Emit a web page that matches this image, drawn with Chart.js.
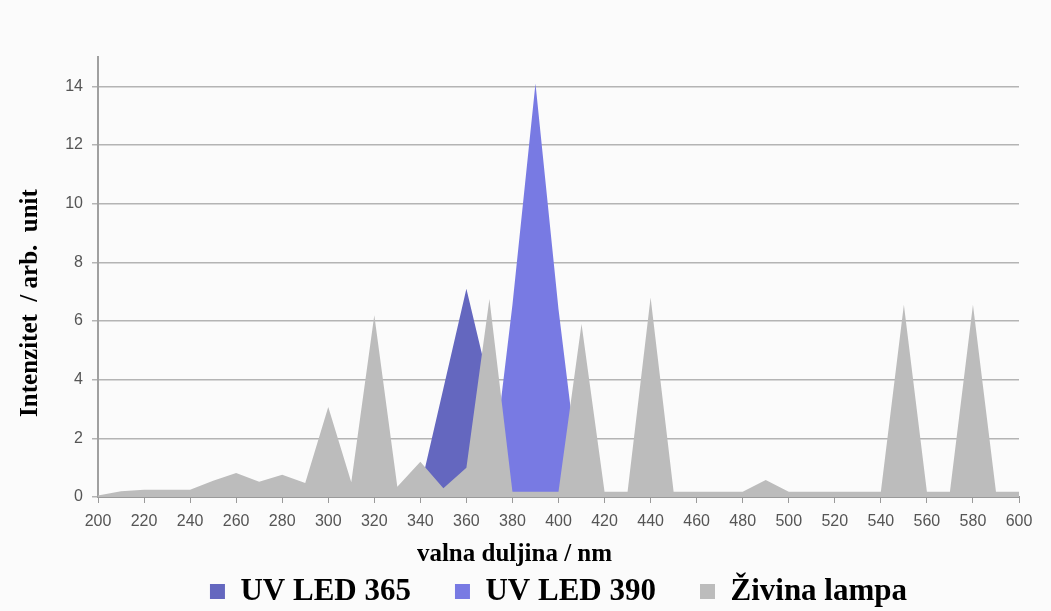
<!DOCTYPE html>
<html>
<head>
<meta charset="utf-8">
<script src="https://cdn.jsdelivr.net/npm/chart.js@4/dist/chart.umd.min.js"></script>
<style>
    body { margin: 0; background: #fbfbfb; }
    canvas { display: block; }
</style>
</head>
<body>
<canvas id="chart" width="1051" height="611"></canvas>
<script>
// wavelength categories (nm)
const wavelengths = [200, 210, 220, 230, 240, 250, 260, 270, 280, 290,
    300, 310, 320, 330, 340, 350, 360, 370, 380, 390,
    400, 410, 420, 430, 440, 450, 460, 470, 480, 490,
    500, 510, 520, 530, 540, 550, 560, 570, 580, 590, 600];

const uvLed365 = [0, 0, 0, 0, 0, 0, 0, 0, 0, 0,
    0, 0, 0, 0, 0.3, 3.7, 7.1, 3.8, 0, 0,
    0, 0, 0, 0, 0, 0, 0, 0, 0, 0,
    0, 0, 0, 0, 0, 0, 0, 0, 0, 0, 0];

const uvLed390 = [0, 0, 0, 0, 0, 0, 0, 0, 0, 0,
    0, 0, 0, 0, 0, 0, 0, 0, 6.55, 14.1,
    6.4, 0, 0, 0, 0, 0, 0, 0, 0, 0,
    0, 0, 0, 0, 0, 0, 0, 0, 0, 0, 0];

const zivinaLampa = [0.05, 0.2, 0.25, 0.25, 0.25, 0.55, 0.82, 0.52, 0.76, 0.48,
    3.07, 0.5, 6.2, 0.35, 1.2, 0.3, 1.0, 6.75, 0.18, 0.18,
    0.18, 5.9, 0.18, 0.18, 6.8, 0.18, 0.18, 0.18, 0.18, 0.58,
    0.18, 0.18, 0.18, 0.18, 0.18, 6.55, 0.18, 0.18, 6.55, 0.18, 0.18];

const yTicks = [0, 2, 4, 6, 8, 10, 12, 14];

const seriesNames = ['UV LED 365', 'UV LED 390', 'Živina lampa'];
const seriesColors = ['#6467bf', '#787ae3', '#bcbcbc'];

const xTitle = 'valna duljina / nm';
const yTitle = 'Intenzitet  / arb.  unit';

// axis titles drawn by hand so they can sit where the original has them
const axisTitles = {
    id: 'axisTitles',
    afterDraw(chart) {
        const ctx = chart.ctx;
        const area = chart.chartArea;
        ctx.save();
        ctx.fillStyle = '#000';
        ctx.font = 'bold 25px "Liberation Serif", "Times New Roman", serif';
        ctx.textAlign = 'center';
        ctx.textBaseline = 'alphabetic';
        ctx.fillText(xTitle, (area.left + area.right) / 2 - 44, 561);
        ctx.translate(37, (area.top + area.bottom) / 2 + 26);
        ctx.rotate(-Math.PI / 2);
        ctx.fillText(yTitle, 0, 0);
        ctx.restore();
    }
};

const ctx = document.getElementById('chart').getContext('2d');
new Chart(ctx, {
    type: 'line',
    data: {
        labels: wavelengths,
        datasets: [
            {
                label: seriesNames[0],
                data: uvLed365,
                backgroundColor: seriesColors[0],
                borderColor: seriesColors[0],
                borderWidth: 0,
                fill: 'origin',
                pointRadius: 0,
                tension: 0,
                order: 2
            },
            {
                label: seriesNames[1],
                data: uvLed390,
                backgroundColor: seriesColors[1],
                borderColor: seriesColors[1],
                borderWidth: 0,
                fill: 'origin',
                pointRadius: 0,
                tension: 0,
                order: 1
            },
            {
                label: seriesNames[2],
                data: zivinaLampa,
                backgroundColor: seriesColors[2],
                borderColor: seriesColors[2],
                borderWidth: 0,
                fill: 'origin',
                pointRadius: 0,
                tension: 0,
                order: 0
            }
        ]
    },
    options: {
        responsive: false,
        devicePixelRatio: 1,
        animation: false,
        layout: {
            padding: { top: 57, right: 32, bottom: -6, left: 0 }
        },
        plugins: {
            tooltip: { enabled: false },
            legend: {
                position: 'bottom',
                fullSize: false,
                labels: {
                    sort: (a, b) => a.datasetIndex - b.datasetIndex,
                    boxWidth: 15,
                    boxHeight: 15,
                    padding: 44,
                    color: '#000',
                    font: { family: '"Liberation Serif", "Times New Roman", serif', size: 31, weight: 'bold' }
                }
            }
        },
        scales: {
            x: {
                offset: false,
                afterFit: (scale) => { scale.height = 35; },
                grid: {
                    drawOnChartArea: false,
                    tickLength: 6,
                    color: (c) => c.index % 2 === 0 ? '#9a9a9a' : 'rgba(0,0,0,0)'
                },
                border: { color: '#9a9a9a', width: 2 },
                ticks: {
                    autoSkip: false,
                    maxRotation: 0,
                    padding: 9,
                    color: '#555',
                    font: { family: '"Liberation Sans", Arial, sans-serif', size: 16 },
                    callback: (v, i) => i % 2 === 0 ? String(wavelengths[i]) : ''
                }
            },
            y: {
                min: 0,
                max: 15,
                afterFit: (scale) => { scale.width = 98; },
                afterBuildTicks: (scale) => { scale.ticks = yTicks.map(v => ({ value: v })); },
                grid: {
                    color: '#b4b4b4',
                    lineWidth: 1.5,
                    tickLength: 6
                },
                border: { color: '#a0a0a0', width: 2 },
                ticks: {
                    padding: 9,
                    color: '#555',
                    font: { family: '"Liberation Sans", Arial, sans-serif', size: 16 }
                }
            }
        }
    },
    plugins: [axisTitles]
});
</script>
</body>
</html>
